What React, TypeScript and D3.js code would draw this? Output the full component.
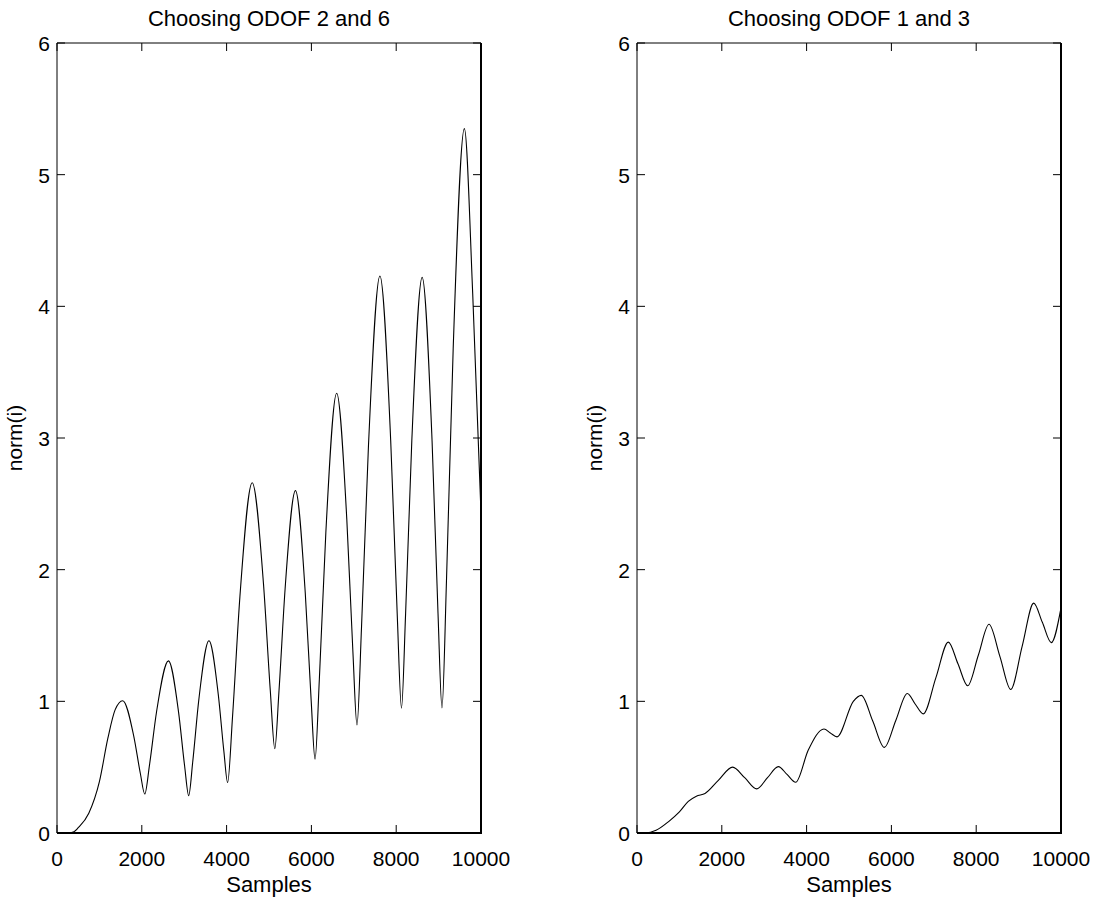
import React from 'react';
import * as d3 from 'd3';

// ODOF 2 and 6
const leftSamples = [
  0, 250, 400, 500, 750, 1000, 1200, 1370, 1550,
  1810, 1966, 2070, 2182, 2349, 2628,
  2867, 3010, 3106, 3202, 3345, 3584,
  3804, 3936, 4024, 4140, 4314, 4604,
  4870, 5030, 5137, 5234, 5380, 5624,
  5855, 5994, 6086, 6188, 6341, 6596,
  6835, 6979, 7075, 7183, 7345, 7616,
  7870, 8023, 8125, 8222, 8368, 8612,
  8846, 8986, 9080, 9186, 9344, 9608,
  9804, 10000,
];
const leftValues = [
  0, 0, 0.01, 0.04, 0.15, 0.39, 0.72, 0.935, 1.005,
  0.736, 0.452, 0.296, 0.518, 0.923, 1.307,
  0.918, 0.509, 0.284, 0.543, 1.013, 1.46,
  1.051, 0.62, 0.383, 0.884, 1.795, 2.66,
  1.892, 1.084, 0.64, 1.071, 1.855, 2.6,
  1.825, 1.009, 0.56, 1.172, 2.284, 3.34,
  2.382, 1.374, 0.82, 1.57, 2.934, 4.23,
  2.983, 1.67, 0.948, 1.668, 2.977, 4.22,
  2.977, 1.669, 0.95, 1.918, 3.678, 5.35,
  4.1, 2.43,
];

// ODOF 1 and 3
const rightSamples = [
  0, 200, 450, 739, 1000, 1210, 1400, 1604, 1918, 2256,
  2540, 2823, 3078, 3333, 3538, 3743, 4040, 4410, 4560, 4717,
  5102, 5290, 5560, 5833, 6104, 6375, 6560, 6752, 7050, 7342,
  7570, 7799, 8050, 8302, 8560, 8814, 9085, 9356, 9560, 9771, 10000,
];
const rightValues = [
  0, 0, 0.02, 0.085, 0.16, 0.24, 0.28, 0.3, 0.4, 0.5,
  0.42, 0.335, 0.42, 0.504, 0.445, 0.385, 0.63, 0.79, 0.76, 0.73,
  1.0, 1.045, 0.85, 0.65, 0.855, 1.06, 0.98, 0.905, 1.18, 1.45,
  1.285, 1.118, 1.35, 1.585, 1.34, 1.09, 1.42, 1.746, 1.6, 1.446, 1.71,
];

const xTicks = [0, 2000, 4000, 6000, 8000, 10000];
const yTicks = [0, 1, 2, 3, 4, 5, 6];

const titles = ['Choosing ODOF 2 and 6', 'Choosing ODOF 1 and 3'];
const xLabel = 'Samples';
const yLabel = 'norm(i)';

const font = '"Liberation Sans", Arial, Helvetica, sans-serif';
const top = 43;
const bottom = 833;
const tickLen = 8;

type PanelProps = {
  left: number;
  right: number;
  title: string;
  samples: number[];
  values: number[];
};

const Panel = ({ left, right, title, samples, values }: PanelProps) => {
  const x = d3.scaleLinear().domain([0, 10000]).range([left, right]);
  const y = d3.scaleLinear().domain([0, 6]).range([bottom, top]);
  const pts: [number, number][] = samples.map((s, i) => [s, values[i]]);
  const line = d3.line<[number, number]>()
    .x(d => x(d[0]))
    .y(d => y(d[1]))
    .curve(d3.curveMonotoneX);
  const cx = (left + right) / 2;

  return (
    <g>
      <path d={line(pts) || ''} fill="none" stroke="#000" strokeWidth={1.1} />
      {/* box */}
      <line x1={left} x2={right} y1={top} y2={top} stroke="#000" strokeWidth={1} />
      <line x1={left} x2={left} y1={top} y2={bottom} stroke="#000" strokeWidth={1} />
      <line x1={left} x2={right + 1} y1={bottom} y2={bottom} stroke="#000" strokeWidth={2} />
      <line x1={right} x2={right} y1={top} y2={bottom} stroke="#000" strokeWidth={2} />
      {xTicks.map(t => (
        <g key={'x' + t}>
          <line x1={x(t)} x2={x(t)} y1={bottom} y2={bottom - tickLen} stroke="#000" />
          <line x1={x(t)} x2={x(t)} y1={top} y2={top + tickLen} stroke="#000" />
          <text x={x(t)} y={866} textAnchor="middle" fontSize={21} fontFamily={font}>{t}</text>
        </g>
      ))}
      {yTicks.map(t => (
        <g key={'y' + t}>
          <line x1={left} x2={left + tickLen} y1={y(t)} y2={y(t)} stroke="#000" />
          <line x1={right} x2={right - tickLen} y1={y(t)} y2={y(t)} stroke="#000" />
          <text x={left - 7} y={y(t) + 8} textAnchor="end" fontSize={21} fontFamily={font}>{t}</text>
        </g>
      ))}
      <text x={cx} y={26} textAnchor="middle" fontSize={22} fontFamily={font}>{title}</text>
      <text x={cx} y={892} textAnchor="middle" fontSize={22} fontFamily={font}>{xLabel}</text>
      <text
        transform={`translate(${left - 35},${(top + bottom) / 2}) rotate(-90)`}
        textAnchor="middle"
        fontSize={21}
        fontFamily={font}
      >
        {yLabel}
      </text>
    </g>
  );
};

export default function App() {
  return (
    <svg
      width={1100}
      height={899}
      style={{ position: 'absolute', left: 0, top: 0, background: '#fff' }}
    >
      <rect width={1100} height={899} fill="#fff" />
      <Panel left={57} right={481} title={titles[0]} samples={leftSamples} values={leftValues} />
      <Panel left={637} right={1061} title={titles[1]} samples={rightSamples} values={rightValues} />
    </svg>
  );
}
